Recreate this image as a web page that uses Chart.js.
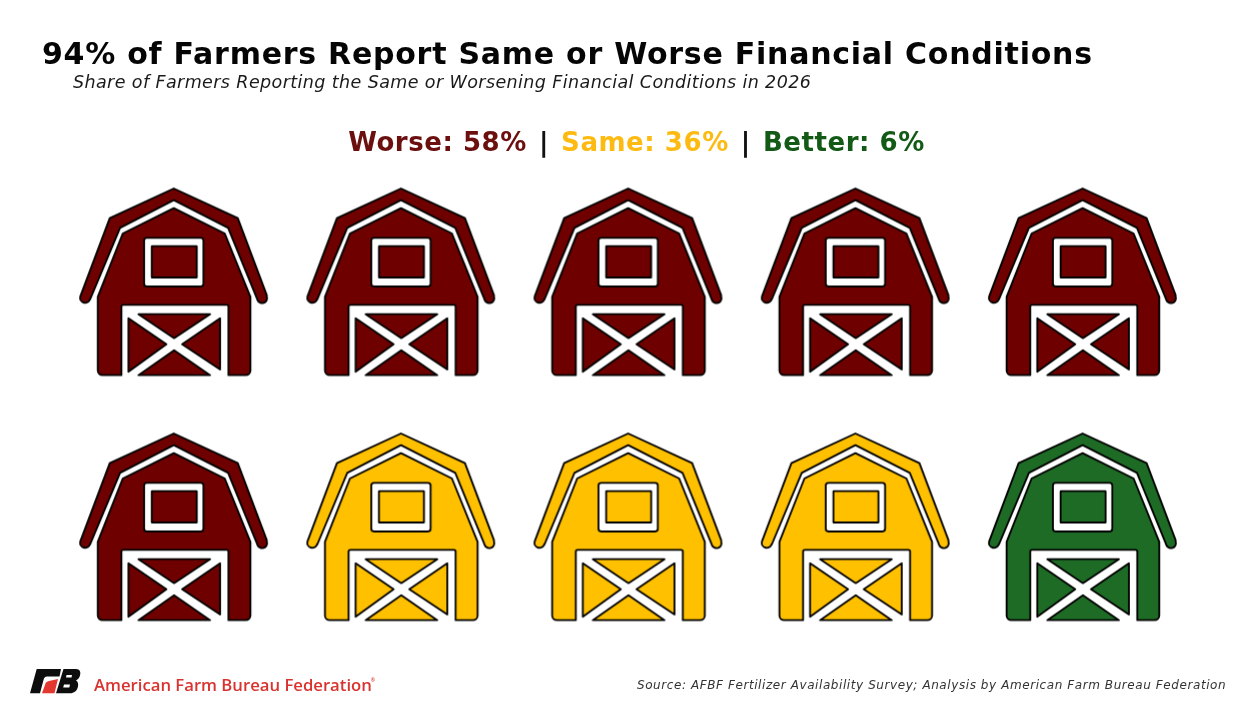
<!DOCTYPE html>
<html>
<head>
<meta charset="utf-8">
<title>Farmer financial conditions</title>
<script src="https://cdn.jsdelivr.net/npm/chart.js@4"></script>
<style>
    html, body { margin: 0; padding: 0; background: #fff; }
    body { width: 1252px; height: 715px; position: relative; overflow: hidden; font-family: "DejaVu Sans", sans-serif; }
    #wrap { position: absolute; left: 0; top: 0; width: 1252px; height: 715px; }
    .txt { position: absolute; white-space: nowrap; line-height: 1; }
    #titulo { left: 42px; top: 38.500px; font-size: 30px; letter-spacing: 0.75px; font-weight: bold; color: #050505; }
    #subtitulo { left: 73px; top: 74px; font-size: 17.5px; letter-spacing: 0.4px; font-style: italic; color: #1a1a1a; }
    #leyenda { left: 0; width: 1273px; text-align: center; top: 129px; font-size: 26px; letter-spacing: 0.55px; font-weight: bold; color: #111; }
    #leyenda span { margin: 0 2.500px; }
    #fuente { left: 637px; top: 679px; font-size: 12px; letter-spacing: 0.58px; font-style: italic; color: #333; }
    #marca { left: 94px; top: 677px; font-family: "Open Sans", sans-serif; font-size: 16.7px; font-weight: 600; color: #d9332f; }
    #marca sup { font-size: 5px; vertical-align: 9px; line-height: 0; margin-left: -1px; }
    #logo { position: absolute; left: 28px; top: 666px; }
</style>
</head>
<body>
<div id="wrap"><canvas id="barnChart" width="1252" height="715"></canvas></div>
<div class="txt" id="titulo"></div>
<div class="txt" id="subtitulo"></div>
<div class="txt" id="leyenda"></div>
<div class="txt" id="fuente"></div>
<div class="txt" id="marca"></div>
<svg id="logo" width="56" height="30" viewBox="0 0 56 30">
    <path fill="#0d0d0d" d="M8.700 3H33L31.500 10.500H19C17 10.500 16 12 15.500 14L12 27.300H2Z"/>
    <path fill="#e2382f" d="M17.500 17.500C18 16 19 15.500 21 15L30 13L26.500 27.300H14Z"/>
    <path fill="#0d0d0d" fill-rule="evenodd" d="M35.500 3H48C52 3 53 6 52 9.500C51.500 11.500 50 13.500 48 14.500C50 15.500 50.500 18 50 20.500C49 25 46 27.300 42 27.300H28ZM38.500 9L38 11.500H43.500L44 9ZM36 18.500L35.200 21.500H41.300L42 18.500Z"/>
</svg>

<script>
const titulo = '94% of Farmers Report Same or Worse Financial Conditions';
const subtitulo = 'Share of Farmers Reporting the Same or Worsening Financial Conditions in 2026';
const fuente = 'Source: AFBF Fertilizer Availability Survey; Analysis by American Farm Bureau Federation';
const marca = 'American Farm Bureau Federation';

const categorias = ['Worse', 'Same', 'Better'];
const porcentajes = [58, 36, 6];
const graneros = [6, 3, 1];
const colores = ['#6e0000', '#ffc000', '#1e6b26'];
const coloresTexto = ['#6b0f0f', '#fdbb12', '#125a16'];

const columnas = 5;

document.getElementById('titulo').textContent = titulo;
document.getElementById('subtitulo').textContent = subtitulo;
document.getElementById('fuente').textContent = fuente;
document.getElementById('marca').innerHTML = marca + '<sup>®</sup>';

document.getElementById('leyenda').innerHTML = categorias
    .map((c, i) => `<span style="color:${coloresTexto[i]}">${c}: ${porcentajes[i]}%</span>`)
    .join(' | ');

// one barn icon, drawn once per colour and handed to chart.js as the point style
function crearGranero(color) {

    const lienzo = document.createElement('canvas');
    lienzo.width = 200;
    lienzo.height = 200;

    const c = lienzo.getContext('2d');

    // outline below was traced on a 3x crop, centre at 312,304
    c.translate(100, 100);
    c.scale(1 / 3, 1 / 3);
    c.translate(-312, -304);

    c.lineWidth = 5.5;
    c.lineJoin = 'round';
    c.strokeStyle = '#000';

    const forma = (puntos, relleno) => {
        c.beginPath();
        puntos.forEach((p, i) => i ? c.lineTo(p[0], p[1]) : c.moveTo(p[0], p[1]));
        c.closePath();
        c.fillStyle = relleno;
        c.fill();
        c.stroke();
    };

    const caja = (x, y, w, h, r, relleno) => {
        c.beginPath();
        c.roundRect(x, y, w, h, r);
        c.fillStyle = relleno;
        c.fill();
        c.stroke();
    };

    // roof band
    c.beginPath();
    c.moveTo(311, 25);
    c.lineTo(503, 114);
    c.lineTo(590, 345);
    c.arc(576, 354, 15, -0.35, Math.PI - 0.2);
    c.lineTo(474, 143);
    c.lineTo(311, 60);
    c.lineTo(150, 143);
    c.lineTo(60, 358);
    c.arc(45, 353, 15, 0.2, Math.PI + 0.35);
    c.lineTo(119, 114);
    c.closePath();
    c.fillStyle = color;
    c.fill();
    c.stroke();

    // body with the door cut out at the bottom
    c.beginPath();
    c.moveTo(311, 84);
    c.lineTo(464, 160);
    c.lineTo(541, 350);
    c.lineTo(541, 570);
    c.arcTo(541, 585, 526, 585, 14);
    c.lineTo(475, 585);
    c.lineTo(475, 378);
    c.arcTo(475, 374, 470, 374, 5);
    c.lineTo(160, 374);
    c.arcTo(154, 374, 154, 380, 5);
    c.lineTo(154, 585);
    c.lineTo(98, 585);
    c.arcTo(83, 585, 83, 570, 14);
    c.lineTo(83, 350);
    c.lineTo(158, 160);
    c.closePath();
    c.fillStyle = color;
    c.fill();
    c.stroke();

    // window
    caja(222, 173, 178, 146, 8, '#fff');
    caja(245, 198, 135, 94, 1, color);

    // door panels, the white X is what stays between them
    forma([[205, 402], [420, 402], [312, 474]], color);
    forma([[450, 414], [450, 568], [336, 492]], color);
    forma([[175, 414], [175, 575], [289, 492]], color);
    forma([[205, 585], [312, 510], [420, 585]], color);

    return lienzo;
}

const datasets = [];
let indice = 0;

categorias.forEach((categoria, i) => {

    const puntos = [];

    for (let n = 0; n < graneros[i]; n++) {
        puntos.push({
            x: indice % columnas + 1,
            y: Math.floor(indice / columnas) + 1
        });
        indice++;
    }

    datasets.push({
        label: categoria,
        data: puntos,
        pointStyle: crearGranero(colores[i]),
        pointRadius: 100,
        pointHoverRadius: 100
    });
});

new Chart(document.getElementById('barnChart'), {
    type: 'scatter',
    data: { datasets },
    options: {
        responsive: false,
        animation: false,
        layout: {
            autoPadding: false,
            padding: { left: 60.5, right: 55.5, top: 159, bottom: 66 }
        },
        plugins: {
            legend: { display: false },
            title: { display: false },
            tooltip: { enabled: false }
        },
        scales: {
            x: { type: 'linear', min: 0.5, max: 5.5, display: false },
            y: { type: 'linear', min: 0.5, max: 2.5, reverse: true, display: false }
        }
    }
});
</script>
</body>
</html>
